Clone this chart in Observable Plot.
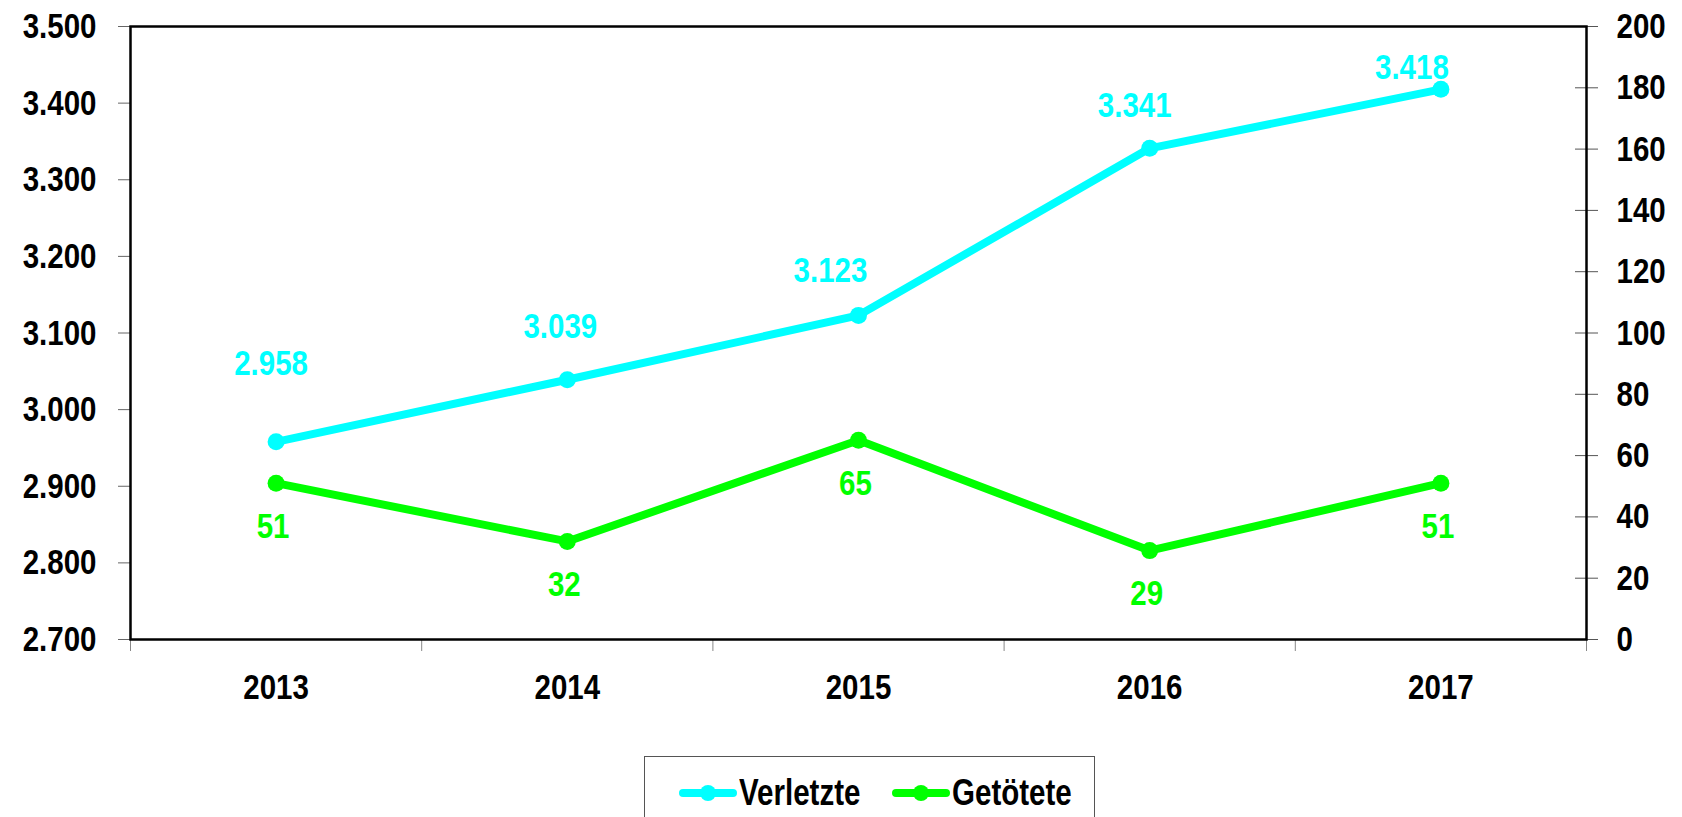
<!DOCTYPE html>
<html>
<head>
<meta charset="utf-8">
<script src="https://cdn.jsdelivr.net/npm/d3@7"></script>
<script src="https://cdn.jsdelivr.net/npm/@observablehq/plot@0.6"></script>
<style>
  html, body { margin: 0; padding: 0; background: #fff; overflow: hidden; }
  body { font-family: "Liberation Sans Narrow", "Arial Narrow", "Liberation Sans", Arial, sans-serif; }
  #wrap { position: relative; width: 1682px; height: 817px; }
  #legend {
    position: absolute; left: 644px; top: 756px; width: 451px; height: 100px;
    border: 1.5px solid #555; box-sizing: border-box; background: #fff;
  }
  .item { position: absolute; top: 15px; display: flex; align-items: center; font-size: 36px; font-weight: bold; color: #000; white-space: nowrap; }
  .item svg { margin-right: 2px; }
  .item span { display: inline-block; transform: scaleX(0.82); transform-origin: 0 50%; }
</style>
</head>
<body>
<div id="wrap">
  <div id="chart"></div>
  <div id="legend"></div>
</div>
<script>
// ---- data ----
const years = [2013, 2014, 2015, 2016, 2017];
const verletzte = [2958, 3039, 3123, 3341, 3418];
const getoetete = [51, 32, 65, 29, 51];
const seriesNames = ["Verletzte", "Getötete"];
const seriesColors = ["#00FFFF", "#00FF00"];
const leftDomain = [2700, 3500];
const rightDomain = [0, 200];
const leftTicks = [2700, 2800, 2900, 3000, 3100, 3200, 3300, 3400, 3500];
const rightTicks = [0, 20, 40, 60, 80, 100, 120, 140, 160, 180, 200];

// layout: manual nudges of the "Verletzte" value labels (pixels, relative to their point)
const verletzteLabelDx = [-5, -7, -28, -15, -29];
const verletzteLabelDy = [-78, -53, -45, -43, -22];

const FONT = '"Liberation Sans Narrow", "Arial Narrow", "Liberation Sans", Arial, sans-serif';
const NARROW = 0.82; // horizontal squeeze to imitate Arial Narrow
const de = d3.formatLocale({decimal: ",", thousands: ".", grouping: [3], currency: ["", "€"]});
const fmt = de.format(",d");

// secondary axis mapped onto the primary y scale
const toLeft = d3.scaleLinear().domain(rightDomain).range(leftDomain);
const rows = years.map((year, i) => ({year, verletzte: verletzte[i], getoetete: getoetete[i]}));
const boundaries = years.map(y => y - 0.5).concat([years[years.length - 1] + 0.5]);

const verletzteLabels = rows.map((r, i) =>
  Plot.text([r], {x: "year", y: "verletzte", text: d => fmt(d.verletzte),
    dx: verletzteLabelDx[i], dy: verletzteLabelDy[i],
    fill: seriesColors[0], fontSize: 36, fontWeight: "bold", fontFamily: FONT}));

const chart = Plot.plot({
  width: 1682,
  height: 740,
  marginLeft: 130,
  marginRight: 96,
  marginTop: 26,
  marginBottom: 101,
  style: {fontFamily: FONT, fontSize: "36px", fontWeight: "bold", color: "#000", background: "#fff", overflow: "visible"},
  x: {type: "linear", domain: [boundaries[0], boundaries[boundaries.length - 1]], axis: null},
  y: {domain: leftDomain, axis: null},
  marks: [
    Plot.axisY(leftTicks, {anchor: "left", tickSize: 12, tickPadding: 22, tickFormat: fmt, stroke: "#666", fill: "#000", label: null}),
    Plot.axisY(rightTicks.map(toLeft), {anchor: "right", tickSize: 23, dx: -12, tickFormat: () => "", stroke: "#555", label: null}),
    Plot.axisY(rightTicks.map(toLeft), {anchor: "right", tickSize: 0, tickPadding: 30, tickFormat: v => String(Math.round(toLeft.invert(v))), fill: "#000", label: null}),
    Plot.axisX(boundaries, {anchor: "bottom", tickSize: 12, tickFormat: () => "", stroke: "#888", label: null}),
    Plot.axisX(years, {anchor: "bottom", tickSize: 0, tickPadding: 34, tickFormat: d => String(d), fill: "#000", label: null}),
    Plot.line(rows, {x: "year", y: "verletzte", stroke: seriesColors[0], strokeWidth: 8}),
    Plot.dot(rows, {x: "year", y: "verletzte", fill: seriesColors[0], r: 8.5, stroke: null}),
    Plot.line(rows, {x: "year", y: d => toLeft(d.getoetete), stroke: seriesColors[1], strokeWidth: 8}),
    Plot.dot(rows, {x: "year", y: d => toLeft(d.getoetete), fill: seriesColors[1], r: 8.5, stroke: null}),
    ...verletzteLabels,
    Plot.text(rows, {x: "year", y: d => toLeft(d.getoetete), text: d => String(d.getoetete), dx: -3, dy: 43, fill: seriesColors[1], fontSize: 36, fontWeight: "bold", fontFamily: FONT}),
    Plot.frame({stroke: "#000", strokeWidth: 2.5})
  ]
});
document.getElementById("chart").appendChild(chart);

// squeeze all texts horizontally around their anchor (imitates the narrow face)
chart.querySelectorAll("text").forEach(t => {
  const tr = t.getAttribute("transform");
  if (tr) {
    t.setAttribute("transform", tr + ` scale(${NARROW},1)`);
  } else {
    const x = +(t.getAttribute("x") || 0), y = +(t.getAttribute("y") || 0);
    t.removeAttribute("x"); t.removeAttribute("y");
    t.setAttribute("transform", `translate(${x},${y}) scale(${NARROW},1)`);
  }
});

// legend
const legend = document.getElementById("legend");
const itemLeft = [34, 247];
seriesNames.forEach((name, i) => {
  const div = document.createElement("div");
  div.className = "item";
  div.style.left = itemLeft[i] + "px";
  div.innerHTML = `<svg width="58" height="20"><line x1="4" y1="10" x2="54" y2="10" stroke="${seriesColors[i]}" stroke-width="8" stroke-linecap="round"/><circle cx="29" cy="10" r="8" fill="${seriesColors[i]}"/></svg><span>${name}</span>`;
  legend.appendChild(div);
});
</script>
</body>
</html>
